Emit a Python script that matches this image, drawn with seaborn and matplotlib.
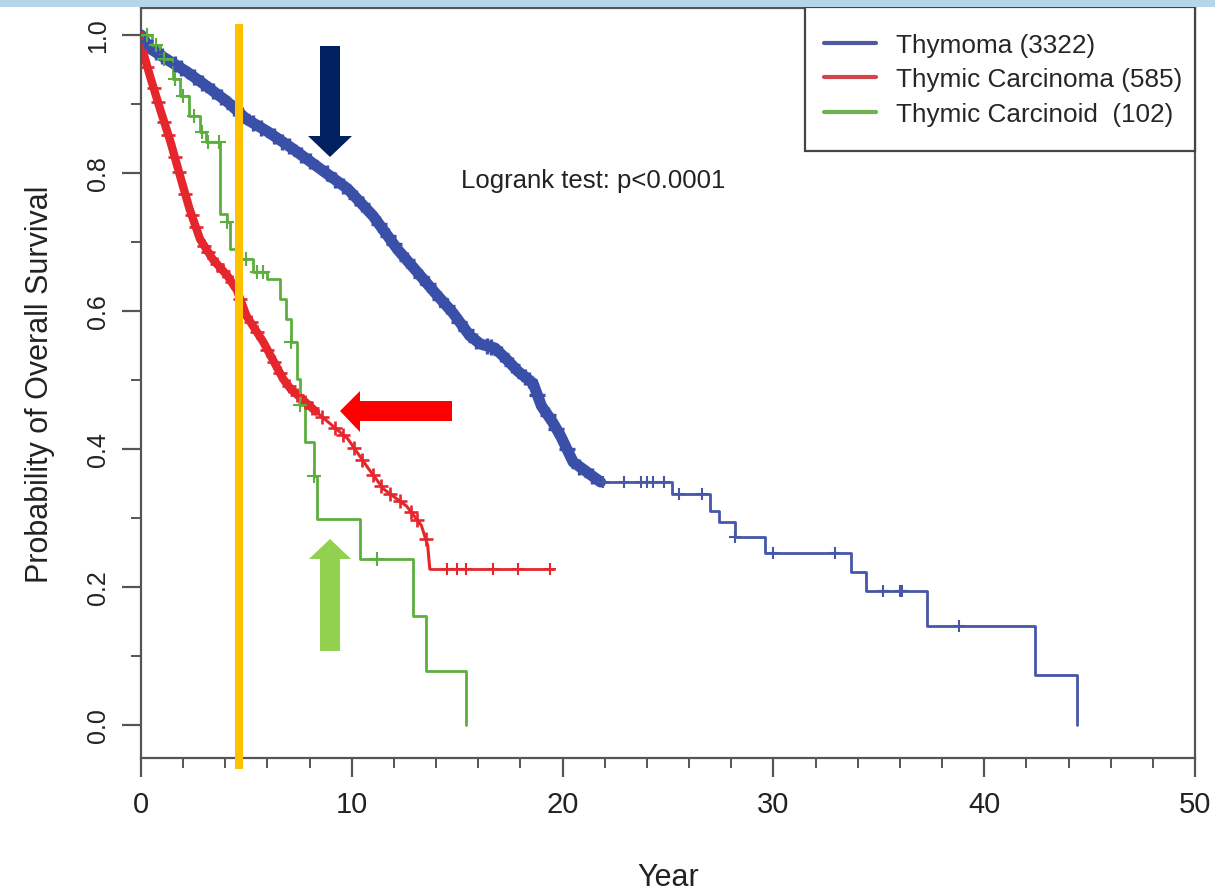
import numpy as np
import matplotlib
matplotlib.use("Agg")
import matplotlib.pyplot as plt
import seaborn as sns
from matplotlib.lines import Line2D
from matplotlib.patches import Polygon, Rectangle

# Thymoma (3322): dense band read along its centre, then the sparse step tail
thy_band_t = [0, 0.4, 1.2, 2.2, 3.1, 4.1, 5.0, 6.0, 7.2, 8.5, 9.8, 11.0, 12.2, 13.0,
              13.9, 14.8, 15.6, 16.1, 16.8, 17.4, 17.9, 18.6, 19.0, 19.5, 19.9, 20.5, 21.0, 21.8]
thy_band_s = [1.0, 0.981, 0.965, 0.946, 0.926, 0.903, 0.878, 0.860, 0.835, 0.806, 0.777, 0.738, 0.688, 0.660,
              0.628, 0.597, 0.564, 0.552, 0.546, 0.528, 0.512, 0.495, 0.462, 0.440, 0.419, 0.381, 0.370, 0.352]
thy_step_t = [21.8, 25.2, 27.0, 27.4, 28.2, 29.6, 33.7, 34.4, 37.3, 42.4, 44.4]
thy_step_s = [0.352, 0.335, 0.310, 0.294, 0.272, 0.249, 0.222, 0.194, 0.143, 0.072, 0.0]
thy_cens_band = [0.2, 0.7, 1.0, 1.6, 1.9, 2.5, 2.9, 3.4, 3.8, 4.4, 4.8, 5.3, 5.7, 6.3, 6.7, 7.0, 7.6,
                 8.0, 8.8, 9.2, 9.6, 10.2, 10.5, 11.3, 11.7, 12.0, 12.6, 13.3, 13.6, 14.2, 14.5, 15.1,
                 15.4, 15.9, 16.4, 16.6, 17.1, 17.6, 18.2, 18.4, 18.8, 19.3, 19.7, 20.2, 20.8, 21.4]
thy_cens_tail = [21.9, 22.9, 23.7, 24.0, 24.3, 24.8, 25.5, 26.6, 28.2, 30.0, 32.9, 35.2, 36.0, 36.1, 38.8]

# Thymic Carcinoma (585)
car_band_t = [0, 0.1, 0.43, 0.9, 1.4, 1.85, 2.3, 2.8, 3.4, 4.1, 4.55, 5.0, 5.8, 6.75, 7.1, 8.3,
              9.8, 10.8, 11.5, 12.6, 13.3, 13.6, 13.7]
car_band_s = [1.0, 0.975, 0.94, 0.893, 0.845, 0.796, 0.748, 0.704, 0.675, 0.651, 0.63, 0.593, 0.555, 0.501,
              0.487, 0.454, 0.415, 0.371, 0.342, 0.317, 0.289, 0.26, 0.226]
car_step_t = [13.7, 19.6]
car_step_s = [0.226, 0.226]
car_cens_band = [0.3, 0.6, 0.8, 1.1, 1.3, 1.6, 1.8, 2.1, 2.4, 2.6, 3.0, 3.2, 3.6, 3.9, 4.3, 4.7, 5.2,
                 5.5, 6.0, 6.3, 6.6, 7.0, 7.4, 7.8, 8.1, 8.6, 9.2, 9.6, 10.1, 10.5, 11.0, 11.4, 11.8,
                 12.3, 12.8, 13.1, 13.5]
car_cens_tail = [14.5, 15.0, 15.4, 16.7, 17.9, 19.4]

# Thymic Carcinoid (102)
cid_t = [0, 0.5, 0.9, 1.5, 1.85, 2.3, 2.8, 3.1, 3.75, 4.1, 4.2, 4.7, 5.3, 6.0, 6.6, 6.9, 7.1,
         7.4, 7.55, 7.8, 8.2, 8.35, 10.4, 12.9, 13.5, 15.4]
cid_s = [1.0, 0.985, 0.965, 0.936, 0.912, 0.883, 0.859, 0.845, 0.74, 0.729, 0.69, 0.675, 0.656, 0.646,
         0.617, 0.588, 0.555, 0.501, 0.463, 0.41, 0.36, 0.298, 0.24, 0.158, 0.078, 0.0]
cid_cens = [0.3, 0.7, 1.1, 1.6, 2.0, 2.5, 2.9, 3.2, 3.7, 4.1, 4.8, 5.0, 5.5, 5.8, 7.1, 7.55, 8.2, 11.2]

labels = ["Thymoma (3322)", "Thymic Carcinoma (585)", "Thymic Carcinoid  (102)"]
c_thy, c_car, c_cid = "#3a50a8", "#e5262c", "#5cae3e"
leg_colors = ["#50589e", "#d2454c", "#6cb24f"]


def step_at(times, surv, q):
    idx = np.searchsorted(times, q, side="right") - 1
    return np.asarray(surv)[idx]


sns.set_style("ticks")
plt.rcParams["font.family"] = ["Liberation Sans", "DejaVu Sans"]

fig = plt.figure(figsize=(12.15, 8.95), dpi=100)
ax = fig.add_axes([141 / 1215, 1 - 759 / 895, (1195 - 141) / 1215, (759 - 9) / 895])

# thymoma
sns.lineplot(x=thy_band_t, y=thy_band_s, ax=ax, color=c_thy, lw=8, estimator=None, sort=False)
sns.lineplot(x=thy_step_t, y=thy_step_s, ax=ax, color="#4656a8", lw=2.0, estimator=None,
             sort=False, drawstyle="steps-post")
sns.scatterplot(x=thy_cens_band, y=np.interp(thy_cens_band, thy_band_t, thy_band_s), ax=ax,
                marker="+", s=120, color=c_thy, linewidth=2.4, zorder=3)
sns.scatterplot(x=thy_cens_tail, y=step_at(thy_step_t, thy_step_s, thy_cens_tail), ax=ax,
                marker="+", s=80, color="#4656a8", linewidth=1.5, zorder=3)

# thymic carcinoma
sns.lineplot(x=car_band_t[:16], y=car_band_s[:16], ax=ax, color=c_car, lw=6, estimator=None, sort=False)
sns.lineplot(x=car_band_t, y=car_band_s, ax=ax, color=c_car, lw=2.2, estimator=None, sort=False)
sns.lineplot(x=car_step_t, y=car_step_s, ax=ax, color=c_car, lw=2.0, estimator=None, sort=False)
sns.scatterplot(x=car_cens_band, y=np.interp(car_cens_band, car_band_t, car_band_s), ax=ax,
                marker="+", s=90, color=c_car, linewidth=1.9, zorder=3)
sns.scatterplot(x=car_cens_tail, y=step_at(car_step_t, car_step_s, car_cens_tail), ax=ax,
                marker="+", s=80, color=c_car, linewidth=1.5, zorder=3)

# thymic carcinoid
sns.lineplot(x=cid_t, y=cid_s, ax=ax, color=c_cid, lw=2.0, estimator=None, sort=False,
             drawstyle="steps-post")
sns.scatterplot(x=cid_cens, y=step_at(cid_t, cid_s, cid_cens), ax=ax,
                marker="+", s=90, color=c_cid, linewidth=1.5, zorder=3)

ax.set_xlim(0, 50)
ax.set_ylim(-0.048, 1.039)
ax.set_xticks(range(0, 51, 10))
ax.set_xticks(range(0, 51, 2), minor=True)
ax.set_yticks([0.0, 0.2, 0.4, 0.6, 0.8, 1.0])
ax.set_yticklabels(["0.0", "0.2", "0.4", "0.6", "0.8", "1.0"])
ax.set_yticks(np.arange(0, 1.01, 0.1), minor=True)
ax.tick_params(axis="both", which="major", length=14, width=1.6, color="#555555", labelcolor="#222222")
ax.tick_params(axis="both", which="minor", length=7, width=1.4, color="#555555")
ax.tick_params(axis="x", labelsize=21, pad=9)
ax.tick_params(axis="y", labelsize=18, pad=8)
for lab in ax.get_yticklabels():
    lab.set_rotation(90)
    lab.set_va("center")
for sp in ax.spines.values():
    sp.set_color("#555555")
    sp.set_linewidth(1.6)

ax.set_xlabel("Year", fontsize=22, color="#222222")
ax.set_ylabel("Probability of Overall Survival", fontsize=22, color="#222222")
ax.xaxis.set_label_coords(0.5, -0.138)
ax.yaxis.set_label_coords(-0.082, 0.5)

ax.text(15.2, 0.79, "Logrank test: p<0.0001", fontsize=18.5, color="#222222", va="center")

# legend box drawn to the reference's size, legend entries placed inside it
ax.add_patch(Rectangle((805 / 1215, 1 - 152 / 895), 390 / 1215, 144 / 895, transform=fig.transFigure,
                       facecolor="white", edgecolor="#444444", lw=1.6, clip_on=False, zorder=4))
handles = [Line2D([0], [0], color=c, lw=3) for c in leg_colors]
leg = ax.legend(handles, labels, loc="upper left", bbox_to_anchor=(824 / 1215, 1 - 34 / 895),
                bbox_transform=fig.transFigure, borderaxespad=0, borderpad=0, fontsize=18.8,
                frameon=False, handlelength=2.0, handletextpad=0.75, labelspacing=0.4)
leg.set_zorder(5)

# overlay marks added on the slide
ax.axvline(4.65, ymin=-0.015, ymax=0.979, color="#ffc000", lw=5.8, clip_on=False, zorder=6,
           solid_capstyle="butt")


def px(pts):
    return [(x / 1215, 1 - y / 895) for x, y in pts]


arrows = [
    ([(320, 47), (340, 47), (340, 137), (352, 137), (330, 158), (308, 137), (320, 137)], "#002060"),
    ([(452, 402), (452, 422), (360, 422), (360, 433), (340, 412), (360, 392), (360, 402)], "#ff0000"),
    ([(320, 652), (340, 652), (340, 560), (351, 560), (330, 540), (309, 560), (320, 560)], "#92d050"),
]
for pts, col in arrows:
    fig.patches.append(Polygon(px(pts), closed=True, facecolor=col, edgecolor="none",
                               transform=fig.transFigure, zorder=10))

fig.patches.append(Rectangle((0, 1 - 8 / 895), 1, 8 / 895, transform=fig.transFigure,
                             facecolor="#b4d7e8", edgecolor="none", zorder=10))

fig.savefig("out.png", dpi=100)
